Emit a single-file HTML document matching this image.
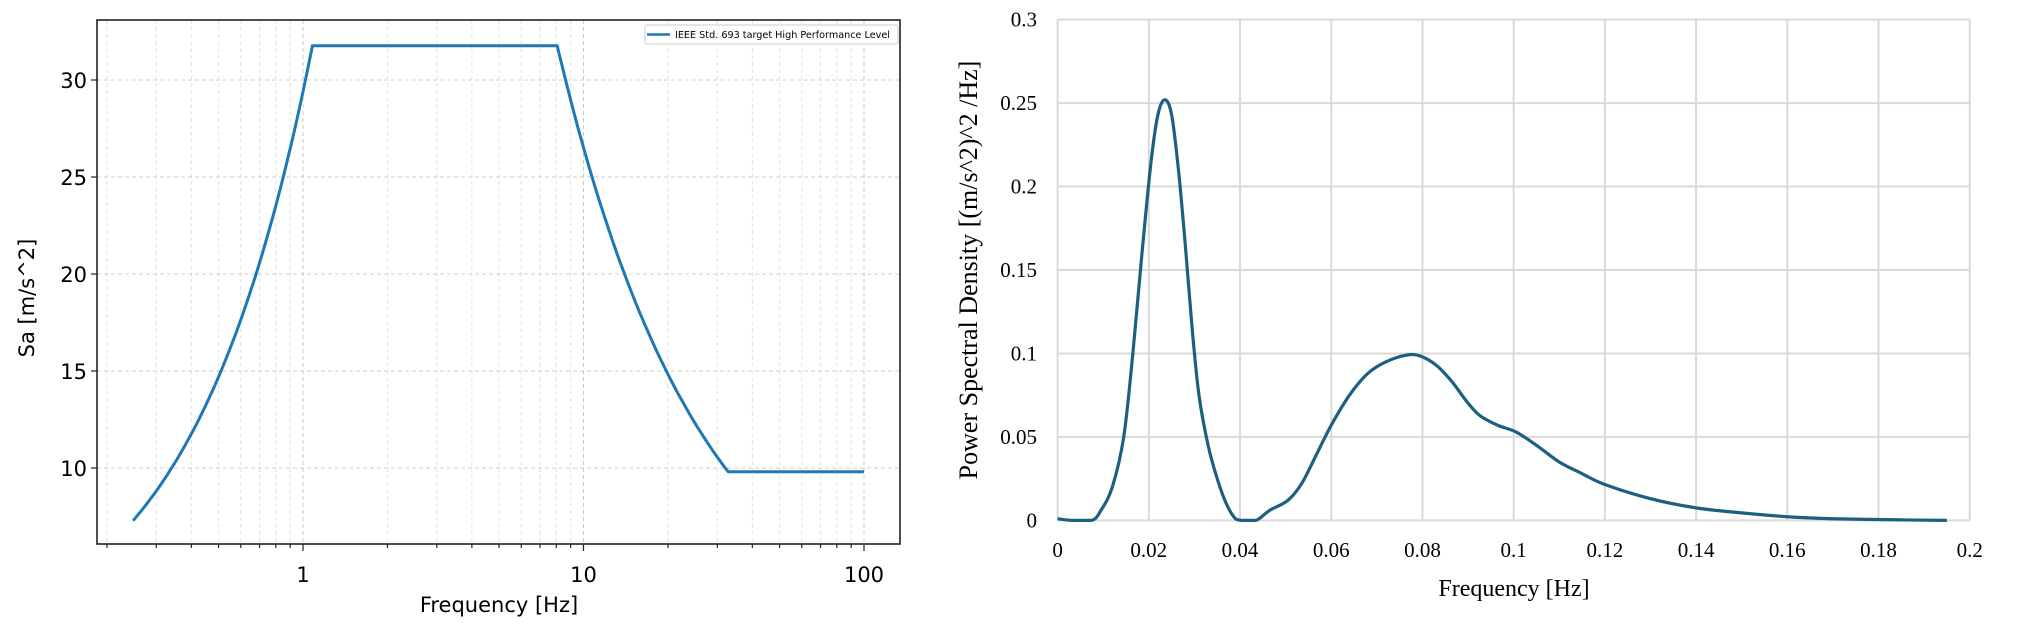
<!DOCTYPE html>
<html><head><meta charset="utf-8"><style>
html,body{margin:0;padding:0;background:#fff;}
svg{display:block}
</style></head><body>
<svg id="s" width="2018" height="639" xmlns="http://www.w3.org/2000/svg">
<rect width="2018" height="639" fill="#fff"/>
<g id="L"></g>
<g id="R"></g>
</svg>
<script>
const NS="http://www.w3.org/2000/svg";
function el(p,t,a,txt){const e=document.createElementNS(NS,t);for(const k in a)e.setAttribute(k,a[k]);if(txt!==undefined)e.textContent=txt;p.appendChild(e);return e;}
// LEFT
const L=document.getElementById('L');
const x0=97,x1=900,y0=20,y1=544;
const fx=f=>303+Math.log10(f)*280.5, vy=v=>468-(v-10)*19.4;
for(let d=-1;d<=2;d++)for(let m=1;m<=9;m++){const f=m*Math.pow(10,d);const x=fx(f);if(x<=x0||x>=x1)continue;
 el(L,'line',{x1:x,x2:x,y1:y0,y2:y1,stroke:m==1?'#c8c8c8':'#e2e2e2','stroke-width':1,'stroke-dasharray':'4,3'});
 el(L,'line',{x1:x,x2:x,y1:y1,y2:y1+(m==1?7:4),stroke:'#222','stroke-width':1.2});}
for(let v=10;v<=30;v+=5){const y=vy(v);el(L,'line',{x1:x0,x2:x1,y1:y,y2:y,stroke:'#cfcfcf','stroke-width':1,'stroke-dasharray':'4,3'});
 el(L,'line',{x1:x0-6,x2:x0,y1:y,y2:y,stroke:'#222','stroke-width':1.2});
 el(L,'text',{x:x0-10,y:y+8,'text-anchor':'end','font-family':'DejaVu Sans,sans-serif','font-size':21},String(v));}
[[1,'1'],[10,'10'],[100,'100']].forEach(([f,t])=>el(L,'text',{x:fx(f),y:582,'text-anchor':'middle','font-family':'DejaVu Sans,sans-serif','font-size':21},t));
let pts=[];
for(let f=0.248;f<=1.08;f*=1.02)pts.push([f,29.4*f]);pts.push([1.08,31.77]);pts.push([8.06,31.77]);
for(let f=8.06;f<=32.8;f*=1.02)pts.push([f,31.77*Math.pow(f/8.06,-0.838)]);pts.push([32.8,9.81]);pts.push([100,9.81]);
el(L,'polyline',{points:pts.map(p=>fx(p[0]).toFixed(1)+','+vy(p[1]).toFixed(1)).join(' '),fill:'none',stroke:'#1f77b4','stroke-width':3,'stroke-linejoin':'round'});
el(L,'rect',{x:x0,y:y0,width:x1-x0,height:y1-y0,fill:'none',stroke:'#222','stroke-width':1.6});
el(L,'rect',{x:645,y:25,width:253,height:19,fill:'#fff',stroke:'#ccc','stroke-width':1,rx:2});
el(L,'line',{x1:647,x2:670,y1:34.5,y2:34.5,stroke:'#1f77b4','stroke-width':2.6});
el(L,'text',{x:675,y:38,'font-family':'DejaVu Sans,sans-serif','font-size':9.5,textLength:215,lengthAdjust:'spacingAndGlyphs'},'IEEE Std. 693 target High Performance Level');
el(L,'text',{x:499,y:612,'text-anchor':'middle','font-family':'DejaVu Sans,sans-serif','font-size':21},'Frequency [Hz]');
el(L,'text',{x:0,y:0,transform:'translate(34,298) rotate(-90)','text-anchor':'middle','font-family':'DejaVu Sans,sans-serif','font-size':21},'Sa [m/s^2]');
// RIGHT
const R=document.getElementById('R');
const a0=1057.6,a1=1969.7,b0=19.6,b1=520.4;
const X=f=>a0+f/0.2*(a1-a0), Y=v=>b1-v/0.3*(b1-b0);
for(let i=0;i<=10;i++){const x=X(i*0.02);el(R,'line',{x1:x,x2:x,y1:b0,y2:b1,stroke:'#d9d9d9','stroke-width':2});
 el(R,'text',{x:x,y:557,'text-anchor':'middle','font-family':'Liberation Serif,serif','font-size':21},i==0?'0':(i==10?'0.2':(i*0.02).toFixed(2).replace(/0$/,'')));}
for(let j=0;j<=6;j++){const y=Y(j*0.05);el(R,'line',{x1:a0,x2:a1,y1:y,y2:y,stroke:'#d9d9d9','stroke-width':2});
 const t=j==0?'0':String(+(j*0.05).toFixed(2));
 el(R,'text',{x:1037,y:y+7,'text-anchor':'end','font-family':'Liberation Serif,serif','font-size':21},t);}
const d=[[0,0.001],[0.003,0],[0.0075,0],[0.0095,0.006],[0.012,0.02],[0.0145,0.05],[0.0165,0.1],[0.0185,0.16],[0.0205,0.215],[0.022,0.243],[0.0235,0.252],[0.025,0.243],[0.0265,0.21],[0.028,0.165],[0.0295,0.115],[0.031,0.075],[0.033,0.045],[0.035,0.025],[0.037,0.01],[0.039,0.001],[0.0405,0],[0.0435,0],[0.0465,0.006],[0.0505,0.012],[0.0535,0.022],[0.0565,0.038],[0.06,0.057],[0.064,0.075],[0.068,0.088],[0.072,0.095],[0.0765,0.099],[0.0795,0.0985],[0.083,0.093],[0.0865,0.083],[0.0895,0.072],[0.0925,0.063],[0.0965,0.057],[0.1005,0.053],[0.105,0.045],[0.11,0.035],[0.115,0.028],[0.12,0.0215],[0.13,0.013],[0.14,0.0075],[0.15,0.0045],[0.16,0.0022],[0.17,0.001],[0.185,0.0003],[0.195,0]];
const P=d.map(p=>[X(p[0]),Y(p[1])]);
let s='M'+P[0][0]+','+P[0][1];
for(let i=0;i<P.length-1;i++){const p0=P[Math.max(0,i-1)],p1=P[i],p2=P[i+1],p3=P[Math.min(P.length-1,i+2)];
 let c1y=p1[1]+(p2[1]-p0[1])/6,c2y=p2[1]-(p3[1]-p1[1])/6;c1y=Math.min(c1y,b1);c2y=Math.min(c2y,b1);
 s+=` C${p1[0]+(p2[0]-p0[0])/6},${c1y} ${p2[0]-(p3[0]-p1[0])/6},${c2y} ${p2[0]},${p2[1]}`;}
el(R,'path',{d:s,fill:'none',stroke:'#1d5f80','stroke-width':3.2,'stroke-linejoin':'round'});
el(R,'text',{x:1514,y:596,'text-anchor':'middle','font-family':'Liberation Serif,serif','font-size':24},'Frequency [Hz]');
el(R,'text',{x:0,y:0,transform:'translate(977,270) rotate(-90)','text-anchor':'middle','font-family':'Liberation Serif,serif','font-size':26},'Power Spectral Density [(m/s^2)^2 /Hz]');
</script>
</body></html>
